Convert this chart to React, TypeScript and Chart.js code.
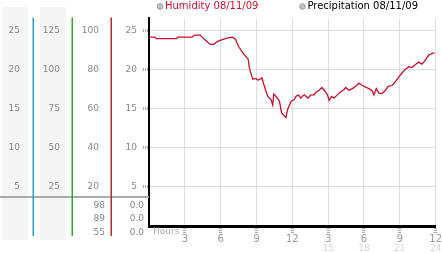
import React, { useEffect, useRef } from 'react';
import { Chart, registerables } from 'chart.js';

Chart.register(...registerables);

// ---- data ----
const humidityHours = [
  0.0, 0.5, 0.6, 2.3, 2.4, 3.6, 3.8, 4.3, 4.5, 4.8, 5.1, 5.35, 5.75, 6.2, 6.6, 7.0, 7.25, 7.5, 7.8,
  8.1, 8.3, 8.4, 8.6, 8.7, 8.95, 9.1, 9.25, 9.45, 9.6, 9.94, 10.22, 10.36, 10.44, 10.64, 10.92,
  11.1, 11.33, 11.47, 11.6, 11.9, 12.17, 12.3, 12.5, 12.7, 13.0, 13.3, 13.56, 13.83, 13.97, 14.25,
  14.47, 14.67, 14.94, 15.08, 15.27, 15.5, 15.77, 16.06, 16.33, 16.47, 16.75, 17.03, 17.3, 17.58,
  17.86, 18.14, 18.42, 18.7, 18.83, 19.03, 19.25, 19.53, 19.8, 20.03, 20.36, 20.64, 20.92, 21.19,
  21.47, 21.75, 22.03, 22.31, 22.58, 22.86, 23.14, 23.42, 23.69, 23.9,
];
const humidityValues = [
  24.2, 24.2, 24.0, 24.0, 24.2, 24.2, 24.45, 24.45, 24.1, 23.7, 23.3, 23.25, 23.65, 23.9, 24.1, 24.2, 23.9, 23.0, 22.3,
  21.7, 21.4, 20.3, 19.2, 18.8, 18.9, 18.7, 18.75, 19.0, 18.2, 16.6, 16.2, 15.5, 16.9, 16.6, 16.0,
  14.5, 14.1, 13.9, 14.9, 16.0, 16.2, 16.6, 16.8, 16.4, 16.8, 16.4, 16.8, 16.8, 17.1, 17.4,
  17.75, 17.4, 16.8, 16.1, 16.6, 16.4, 16.8, 17.2, 17.5, 17.75, 17.4, 17.6, 17.9, 18.3,
  18.0, 17.8, 17.6, 17.3, 16.8, 17.6, 17.0, 17.0, 17.4, 17.9, 18.0, 18.5, 19.1, 19.6,
  20.1, 20.4, 20.3, 20.7, 21.0, 20.75, 21.25, 21.9, 22.1, 22.2,
];
const precipitationHours: number[] = [];
const precipitationValues: number[] = [];

const seriesLabels = ['Humidity 08/11/09', 'Precipitation 08/11/09'];

const hourTicks = [0, 3, 6, 9, 12, 15, 18, 21, 24];
const hourLabels = ['', '3', '6', '9', '12', '3', '6', '9', '12'];
const hourTicks24 = [15, 18, 21, 24];
const hourLabels24 = ['15', '18', '21', '24'];
const hoursTitle = 'Hours';

// left side scales
const scaleAMax = 26.6; const scaleAStep = 5;
const scaleBMax = 133; const scaleBStep = 25;
const scaleCMax = 106.4; const scaleCStep = 20;
const mainMax = 26.6; const mainStep = 5;

const columnCValues = ['98', '89', '55'];
const columnDValues = ['0.0', '0.0', '0.0'];

const FONT = 'DejaVu Sans';
const RED = '#c8102e';

const hideZero = (v: number) => (v === 0 ? '' : String(v));

const panelPlugin = {
  id: 'panel',
  beforeDraw(chart: any) {
    const { ctx, scales } = chart;
    ctx.save();
    ctx.fillStyle = '#f5f5f5';
    const a = scales.yA, b = scales.yB;
    ctx.fillRect(a.left + 2, 7, a.right - a.left - 7, 233);
    ctx.fillRect(b.left + 7, 7, b.right - b.left - 13, 233);
    ctx.restore();
  },
  afterDraw(chart: any) {
    const { ctx, scales, chartArea } = chart;
    ctx.save();
    const sepY = chartArea.bottom - 29;
    ctx.strokeStyle = '#aaaaaa';
    ctx.lineWidth = 2;
    ctx.beginPath();
    ctx.moveTo(0, sepY);
    ctx.lineTo(chartArea.left, sepY);
    ctx.stroke();
    const cols: [any, string][] = [[scales.yA, '#2b9fcc'], [scales.yB, '#2eaa2e'], [scales.yC, '#b82a2a']];
    ctx.lineWidth = 1.5;
    cols.forEach(([s, c]) => {
      ctx.strokeStyle = c;
      ctx.beginPath();
      ctx.moveTo(Math.round(s.right) + 0.25, chartArea.top - 1);
      ctx.lineTo(Math.round(s.right) + 0.25, chartArea.bottom + 10);
      ctx.stroke();
    });
    ctx.font = `9px "${FONT}"`;
    ctx.fillStyle = '#888';
    ctx.textAlign = 'right';
    ctx.textBaseline = 'middle';
    columnCValues.forEach((t, i) => ctx.fillText(t, scales.yC.right - 6, sepY + 8.5 + i * 13.5));
    columnDValues.forEach((t, i) => ctx.fillText(t, scales.y.right - 5, sepY + 8.5 + i * 13.5));
    ctx.textAlign = 'left';
    ctx.fillStyle = '#aaa';
    ctx.fillText(hoursTitle, chartArea.left + 4, chartArea.bottom + 6);
    ctx.font = `10px "${FONT}"`;
    let x = 157;
    chart.data.datasets.forEach((ds: any) => {
      ctx.beginPath();
      ctx.arc(x + 3, 6.5, 2.8, 0, Math.PI * 2);
      ctx.fillStyle = '#c4c4c4';
      ctx.fill();
      ctx.strokeStyle = '#999';
      ctx.lineWidth = 1;
      ctx.stroke();
      ctx.fillStyle = ds.legendColor;
      ctx.textAlign = 'left';
      ctx.textBaseline = 'middle';
      ctx.fillText(ds.label, x + 8, 6.5);
      x += 8 + ctx.measureText(ds.label).width + 41;
    });
    ctx.restore();
  },
};

export default function App() {
  const ref = useRef<HTMLCanvasElement>(null);
  useEffect(() => {
    if (!ref.current) return;
    const tickFont = { family: FONT, size: 9 };
    const sideGrid = { display: false, drawTicks: false };
    const chart = new Chart(ref.current, {
      type: 'line',
      data: {
        datasets: [
          {
            label: seriesLabels[0],
            data: humidityHours.map((h, i) => ({ x: h, y: humidityValues[i] })),
            borderColor: RED,
            borderWidth: 1.3,
            pointRadius: 0,
            tension: 0,
            xAxisID: 'x',
            yAxisID: 'y',
            legendColor: RED,
          } as any,
          {
            label: seriesLabels[1],
            data: precipitationHours.map((h, i) => ({ x: h, y: precipitationValues[i] })),
            borderColor: '#000',
            borderWidth: 1,
            pointRadius: 0,
            xAxisID: 'x',
            yAxisID: 'y',
            legendColor: '#000',
          } as any,
        ],
      },
      options: {
        responsive: false,
        animation: false,
        layout: { padding: { top: 13, right: 5, left: 0, bottom: 0 } },
        plugins: { legend: { display: false }, tooltip: { enabled: false } },
        scales: {
          x: {
            type: 'linear',
            position: 'bottom',
            weight: 0,
            min: 0,
            max: 24,
            afterBuildTicks: (s: any) => { s.ticks = hourTicks.map((v) => ({ value: v })); },
            afterFit: (s: any) => { s.height = 17; },
            ticks: {
              autoSkip: false,
              maxRotation: 0,
              padding: 0,
              color: '#999',
              font: { family: FONT, size: 10 },
              callback: (_v: any, i: number) => hourLabels[i],
            },
            grid: {
              color: '#dddddd',
              tickColor: (c: any) => (c.tick && c.tick.value === 0 ? 'rgba(0,0,0,0)' : '#aaa'),
              tickLength: 7,
              tickWidth: 3,
              tickBorderDash: [1, 1],
            },
            border: { color: '#000', width: 3 },
          },
          x2: {
            type: 'linear',
            position: 'bottom',
            weight: 1,
            min: 0,
            max: 24,
            afterBuildTicks: (s: any) => { s.ticks = hourTicks24.map((v) => ({ value: v })); },
            afterFit: (s: any) => { s.height = 10; },
            ticks: {
              autoSkip: false,
              maxRotation: 0,
              padding: 0,
              color: '#d6d6d6',
              font: tickFont,
              callback: (_v: any, i: number) => hourLabels24[i],
            },
            grid: sideGrid,
            border: { display: false },
          },
          yA: {
            position: 'left',
            weight: 4,
            min: 0,
            max: scaleAMax,
            afterFit: (s: any) => { s.width = 33; },
            ticks: { stepSize: scaleAStep, includeBounds: false, padding: 13, color: '#888', font: tickFont, callback: hideZero as any },
            grid: sideGrid,
            border: { display: false },
          },
          yB: {
            position: 'left',
            weight: 3,
            min: 0,
            max: scaleBMax,
            afterFit: (s: any) => { s.width = 39; },
            ticks: { stepSize: scaleBStep, includeBounds: false, padding: 12, color: '#888', font: tickFont, callback: hideZero as any },
            grid: sideGrid,
            border: { display: false },
          },
          yC: {
            position: 'left',
            weight: 2,
            min: 0,
            max: scaleCMax,
            afterFit: (s: any) => { s.width = 39; },
            ticks: { stepSize: scaleCStep, includeBounds: false, padding: 12, color: '#888', font: tickFont, callback: hideZero as any },
            grid: sideGrid,
            border: { display: false },
          },
          y: {
            position: 'left',
            weight: 1,
            min: 0,
            max: mainMax,
            afterFit: (s: any) => { s.width = 38; },
            ticks: { stepSize: mainStep, includeBounds: false, padding: 6, color: '#888', font: tickFont, callback: hideZero as any },
            grid: {
              color: (c: any) => (c.tick && c.tick.value === 0 ? 'rgba(0,0,0,0)' : '#dddddd'),
              tickColor: (c: any) => (c.tick && c.tick.value === 0 ? 'rgba(0,0,0,0)' : '#aaa'),
              tickLength: 6,
              tickWidth: 3,
              tickBorderDash: [1, 1],
            },
            border: { color: '#000', width: 2 },
          },
        },
      } as any,
      plugins: [panelPlugin],
    });
    return () => chart.destroy();
  }, []);
  return (
    <div style={{ position: 'fixed', left: 0, top: 0, width: 442, height: 253, background: '#fff' }}>
      <canvas ref={ref} width={442} height={253} style={{ display: 'block' }} />
    </div>
  );
}
